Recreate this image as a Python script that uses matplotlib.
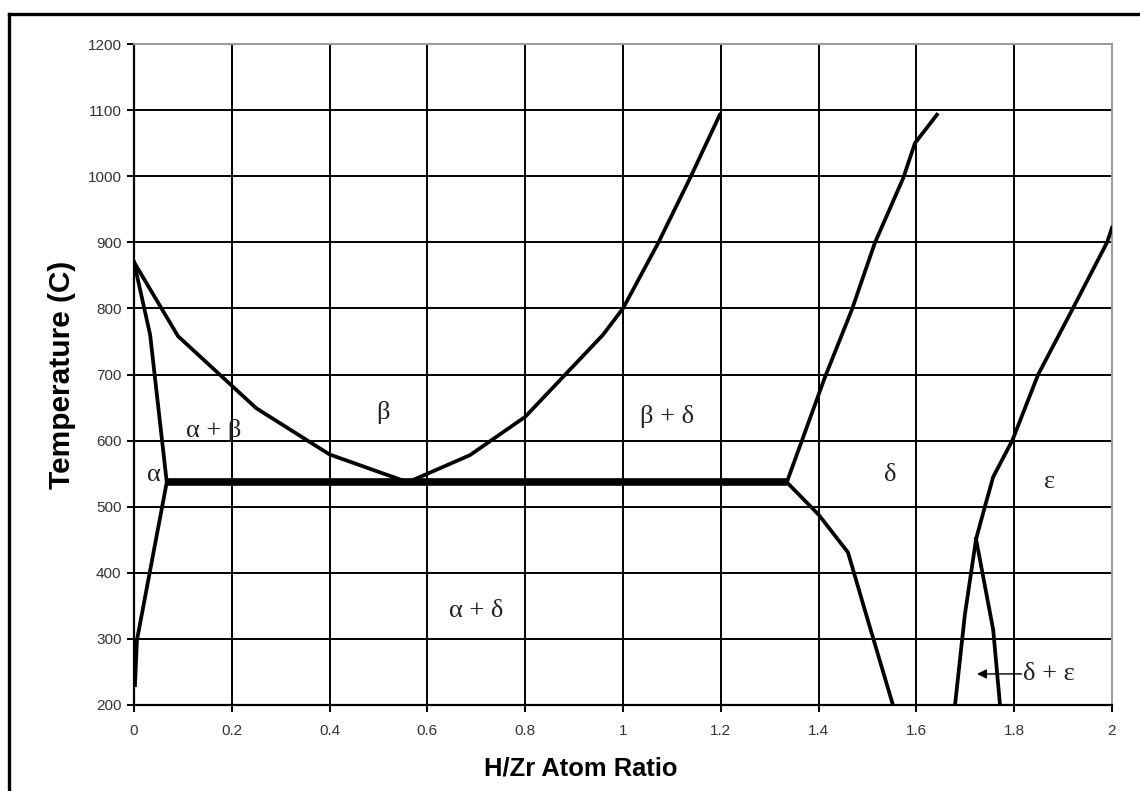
import matplotlib
matplotlib.use("Agg")
import matplotlib.pyplot as plt
from matplotlib.lines import Line2D

# Phase boundaries of the Zr-H system (H/Zr atom ratio, temperature in C)
alpha_solvus_hi_x = [0.0, 0.033, 0.067]
alpha_solvus_hi_t = [870, 760, 537]

alpha_beta_x = [0.0, 0.09, 0.25, 0.40, 0.56]
alpha_beta_t = [870, 758, 649, 579, 537]

alpha_solvus_lo_x = [0.067, 0.006, 0.002]
alpha_solvus_lo_t = [537, 298, 230]

beta_delta_x = [0.56, 0.687, 0.80, 0.959, 1.0, 1.072, 1.137, 1.198]
beta_delta_t = [537, 578, 636, 760, 800, 899, 997, 1093]

delta_upper_x = [1.335, 1.413, 1.468, 1.515, 1.573, 1.597, 1.642]
delta_upper_t = [537, 696, 798, 899, 997, 1050, 1093]

delta_lower_x = [1.335, 1.40, 1.46, 1.50, 1.552]
delta_lower_t = [537, 488, 431, 330, 200]

eps_left_x = [1.722, 1.699, 1.679]
eps_left_t = [451, 336, 200]

eps_right_x = [1.722, 1.757, 1.771]
eps_right_t = [451, 314, 200]

eps_upper_x = [1.722, 1.740, 1.757, 1.796, 1.849, 1.920, 1.990, 2.0]
eps_upper_t = [451, 500, 545, 600, 700, 800, 900, 922]

eutectoid_x = [0.067, 1.335]
eutectoid_t = [537, 537]

# Phase field labels
region_labels = ["\u03b1", "\u03b1 + \u03b2", "\u03b2", "\u03b2 + \u03b4", "\u03b1 + \u03b4", "\u03b4", "\u03b5"]
region_x = [0.04, 0.162, 0.509, 1.09, 0.70, 1.546, 1.873]
region_t = [548, 616, 642, 636, 342, 548, 537]

xticks = [0, 0.2, 0.4, 0.6, 0.8, 1.0, 1.2, 1.4, 1.6, 1.8, 2.0]
xtick_labels = ["0", "0.2", "0.4", "0.6", "0.8", "1", "1.2", "1.4", "1.6", "1.8", "2"]
yticks = [200, 300, 400, 500, 600, 700, 800, 900, 1000, 1100, 1200]

W, H = 1140, 791
fig = plt.figure(figsize=(W / 100, H / 100), dpi=100)
ax = fig.add_axes([134 / W, 1 - 705 / H, 978 / W, 661 / H])

ax.set_xlim(0, 2)
ax.set_ylim(200, 1200)
ax.set_xticks(xticks)
ax.set_xticklabels(xtick_labels)
ax.set_yticks(yticks)

for x in xticks[1:-1]:
    ax.axvline(x, color="black", lw=1.4, zorder=1)
for t in yticks[1:-1]:
    ax.axhline(t, color="black", lw=1.4, zorder=1)

for side in ("top", "right"):
    ax.spines[side].set_color("#999999")
    ax.spines[side].set_linewidth(1.4)
for side in ("left", "bottom"):
    ax.spines[side].set_color("black")
    ax.spines[side].set_linewidth(1.6)

ax.tick_params(direction="out", length=5, width=1.4, colors="black",
               labelsize=11)
ax.tick_params(axis="y", pad=4)
ax.tick_params(axis="x", pad=9)
for lbl in ax.get_xticklabels() + ax.get_yticklabels():
    lbl.set_fontfamily("Liberation Sans")
    lbl.set_color("#333333")

curve_kw = dict(color="black", lw=2.7, solid_joinstyle="miter", zorder=3)
for xs, ts in [(alpha_solvus_hi_x, alpha_solvus_hi_t),
               (alpha_beta_x, alpha_beta_t),
               (alpha_solvus_lo_x, alpha_solvus_lo_t),
               (beta_delta_x, beta_delta_t),
               (delta_upper_x, delta_upper_t),
               (delta_lower_x, delta_lower_t),
               (eps_left_x, eps_left_t),
               (eps_right_x, eps_right_t),
               (eps_upper_x, eps_upper_t)]:
    ax.plot(xs, ts, **curve_kw)

ax.plot(eutectoid_x, eutectoid_t, color="black", lw=5.5,
        solid_capstyle="butt", zorder=4)

serif = ["Liberation Serif", "DejaVu Serif"]
for text, x, t in zip(region_labels, region_x, region_t):
    ax.text(x, t, text, fontsize=19, family=serif, color="#222222",
            ha="center", va="center", zorder=5)

ax.annotate("", xy=(1.724, 247), xytext=(1.815, 247),
            arrowprops=dict(arrowstyle="-|>", color="black", lw=1.0,
                            mutation_scale=14, shrinkA=0, shrinkB=0))
ax.text(1.818, 247, "\u03b4 + \u03b5", fontsize=19, family=serif,
        color="#222222", ha="left", va="center", zorder=5)

fig.text(581 / W, 1 - 768 / H, "H/Zr Atom Ratio", fontsize=18.4,
         fontweight="bold", family="Liberation Sans", ha="center", va="center")
fig.text(62 / W, 1 - 375 / H, "Temperature (C)", fontsize=21.5,
         fontweight="bold", family="Liberation Sans", rotation=90,
         ha="center", va="center")

# Outer frame (left and top edges visible)
fig.add_artist(Line2D([8.5 / W, 8.5 / W], [0, 1 - 13.5 / H],
                      transform=fig.transFigure, color="black", lw=2.4))
fig.add_artist(Line2D([8.5 / W, 1], [1 - 13.5 / H, 1 - 13.5 / H],
                      transform=fig.transFigure, color="black", lw=2.4))

fig.savefig("out.png", dpi=100)
